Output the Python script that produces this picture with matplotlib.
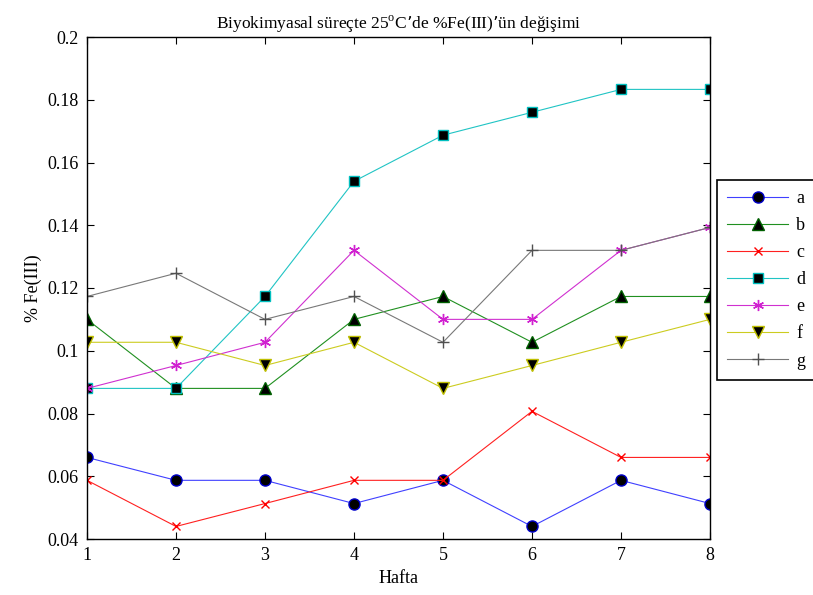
import numpy as np
import matplotlib
matplotlib.use('Agg')
import matplotlib.pyplot as plt

# Haftalik %Fe(III) olcumleri
hafta = [1, 2, 3, 4, 5, 6, 7, 8]
a = [0.0660, 0.0587, 0.0587, 0.0513, 0.0587, 0.0440, 0.0587, 0.0513]
b = [0.1100, 0.0880, 0.0880, 0.1100, 0.1173, 0.1027, 0.1173, 0.1173]
c = [0.0587, 0.0440, 0.0513, 0.0587, 0.0587, 0.0807, 0.0660, 0.0660]
d = [0.0880, 0.0880, 0.1173, 0.1540, 0.1687, 0.1760, 0.1833, 0.1833]
e = [0.0880, 0.0953, 0.1027, 0.1320, 0.1100, 0.1100, 0.1320, 0.1393]
f = [0.1027, 0.1027, 0.0953, 0.1027, 0.0880, 0.0953, 0.1027, 0.1100]
g = [0.1173, 0.1247, 0.1100, 0.1173, 0.1027, 0.1320, 0.1320, 0.1393]

seriler = ['a', 'b', 'c', 'd', 'e', 'f', 'g']
yticks = [0.04, 0.06, 0.08, 0.1, 0.12, 0.14, 0.16, 0.18, 0.2]
ytick_labels = ['0.04', '0.06', '0.08', '0.1', '0.12', '0.14', '0.16', '0.18', '0.2']

plt.rcParams['font.family'] = ['Liberation Serif', 'DejaVu Serif']

fig = plt.figure(figsize=(8.13, 5.95), dpi=100)
ax = fig.add_axes([87 / 813, 1 - 539 / 595, (710 - 87) / 813, (539 - 37) / 595])

stiller = [
    dict(color='#4040ff', marker='o', mfc='k', mec='#0000cc', ms=8),
    dict(color='#209020', marker='^', mfc='k', mec='#006000', ms=8.5),
    dict(color='#ff2020', marker='x', mfc='none', mec='#ff0000', ms=5.5),
    dict(color='#20c4c4', marker='s', mfc='k', mec='#00bfbf', ms=7),
    dict(color='#d030d0', marker=(6, 2, 0), mfc='none', mec='#d020d0', ms=8),
    dict(color='#cccc20', marker='v', mfc='k', mec='#bfbf00', ms=8.5),
    dict(color='#787878', marker='+', mfc='none', mec='#505050', ms=8),
]

for ad, y, st in zip(seriler, [a, b, c, d, e, f, g], stiller):
    ax.plot(hafta, y, lw=0.8, label=ad, **st)

ax.set_xlim(1, 8)
ax.set_ylim(0.04, 0.2)
ax.set_xticks(hafta)
ax.set_yticks(yticks)
ax.set_yticklabels(ytick_labels)
ax.tick_params(direction='in', length=5, width=0.8, labelsize=13,
               top=True, right=True, pad=6)
for sp in ax.spines.values():
    sp.set_linewidth(1.0)

ax.set_title('Biyokimyasal süreçte 25$^{\\mathregular{o}}$C’de %Fe(III)’ün değişimi',
             fontsize=12.5, pad=6)
ax.set_xlabel('Hafta', fontsize=13, labelpad=4)
ax.set_ylabel('% Fe(III)', fontsize=13, labelpad=4)

# legend sits outside the axes and runs past the right edge of the figure
leg = ax.legend(loc='upper left', bbox_to_anchor=(717 / 813, 1 - 180 / 595),
                bbox_transform=fig.transFigure, borderaxespad=0, fontsize=13,
                fancybox=False, edgecolor='k', framealpha=1, handlelength=3.4,
                labelspacing=0.56, borderpad=0.55, handletextpad=0.45)
leg.get_frame().set_linewidth(1.2)

fig.savefig('out.png', dpi=100)
